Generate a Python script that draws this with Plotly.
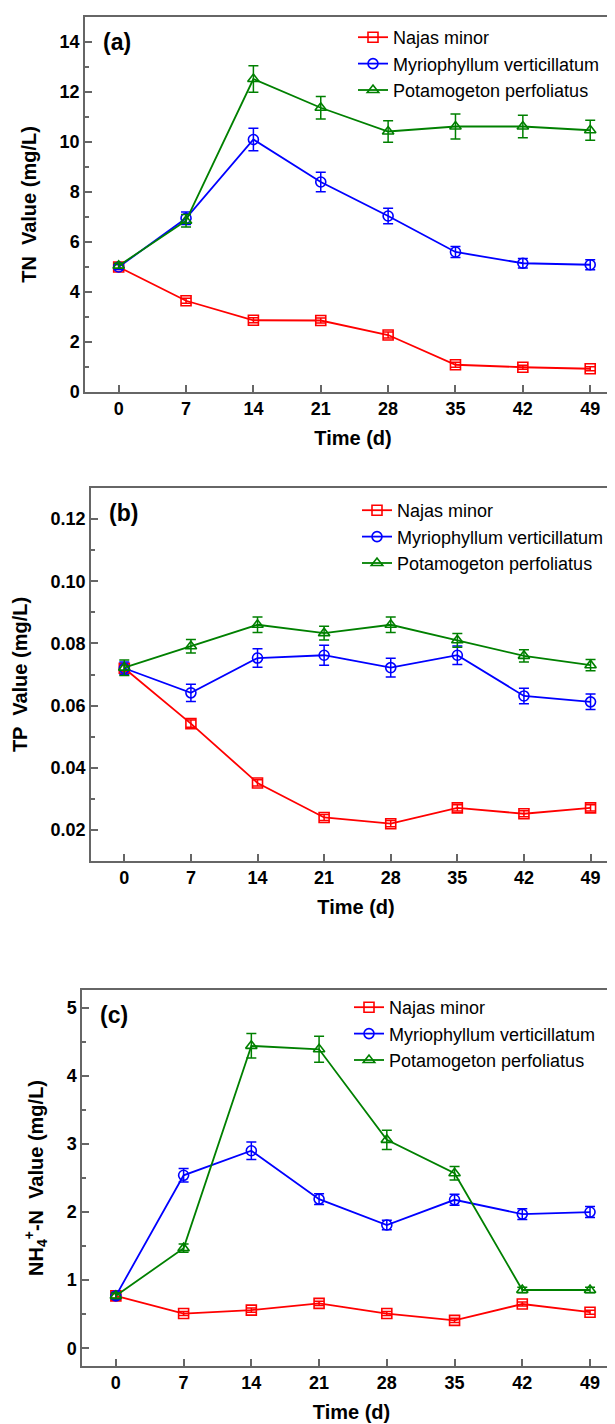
import plotly.graph_objects as go

# ---------------- data ----------------
days = [0, 7, 14, 21, 28, 35, 42, 49]
day_ticks = ["0", "7", "14", "21", "28", "35", "42", "49"]
series_names = ["Najas minor", "Myriophyllum verticillatum", "Potamogeton perfoliatus"]

tn_najas = [5.0, 3.65, 2.87, 2.86, 2.28, 1.09, 0.99, 0.93]
tn_najas_err = [0.1, 0.1, 0.1, 0.1, 0.12, 0.1, 0.08, 0.08]
tn_myrio = [5.0, 6.95, 10.1, 8.4, 7.04, 5.6, 5.15, 5.09]
tn_myrio_err = [0.1, 0.25, 0.45, 0.39, 0.31, 0.22, 0.19, 0.2]
tn_pota = [5.05, 6.85, 12.52, 11.37, 10.42, 10.62, 10.62, 10.47]
tn_pota_err = [0.1, 0.25, 0.53, 0.45, 0.43, 0.5, 0.45, 0.4]

tp_najas = [0.072, 0.0542, 0.0351, 0.024, 0.022, 0.0271, 0.0252, 0.0271]
tp_najas_err = [0.001, 0.0012, 0.001, 0.001, 0.001, 0.001, 0.001, 0.001]
tp_myrio = [0.072, 0.0641, 0.0753, 0.0762, 0.0722, 0.0762, 0.0631, 0.0612]
tp_myrio_err = [0.002, 0.0028, 0.003, 0.0032, 0.003, 0.003, 0.0025, 0.0025]
tp_pota = [0.0722, 0.0791, 0.086, 0.0833, 0.086, 0.081, 0.076, 0.073]
tp_pota_err = [0.0025, 0.0022, 0.0025, 0.0022, 0.0025, 0.0022, 0.002, 0.0018]

nh_najas = [0.77, 0.51, 0.56, 0.66, 0.51, 0.41, 0.65, 0.53]
nh_najas_err = [0.03, 0.03, 0.03, 0.03, 0.03, 0.03, 0.03, 0.03]
nh_myrio = [0.77, 2.54, 2.90, 2.19, 1.81, 2.18, 1.97, 2.0]
nh_myrio_err = [0.05, 0.1, 0.13, 0.08, 0.07, 0.08, 0.08, 0.08]
nh_pota = [0.77, 1.47, 4.44, 4.39, 3.06, 2.57, 0.856, 0.856]
nh_pota_err = [0.04, 0.06, 0.18, 0.19, 0.14, 0.1, 0.04, 0.04]

colors = ["#ff0000", "#0000ff", "#008000"]
symbols = ["square-open", "circle-open", "triangle-up-open"]

W, H = 615, 1424
FONT = "Arial, Liberation Sans, sans-serif"

panels = [
    dict(vals=[(tn_najas, tn_najas_err), (tn_myrio, tn_myrio_err), (tn_pota, tn_pota_err)],
         box=(77, 613, 9, 384), yrange=[0, 15], dtick=2, minor=1, tickformat="d",
         ytitle="TN  Value (mg/L)", label="(a)", leg=(345, 11)),
    dict(vals=[(tp_najas, tp_najas_err), (tp_myrio, tp_myrio_err), (tp_pota, tp_pota_err)],
         box=(83, 613, 480, 853), yrange=[0.01, 0.13], dtick=0.02, minor=0.01, tickformat=".2f",
         ytitle="TP  Value (mg/L)", label="(b)", leg=(349, 484)),
    dict(vals=[(nh_najas, nh_najas_err), (nh_myrio, nh_myrio_err), (nh_pota, nh_pota_err)],
         box=(74, 613, 982, 1358), yrange=[-0.26, 5.26], dtick=1, minor=0.5, tickformat="d",
         ytitle="NH<sub>4</sub><sup>+</sup>-N  Value (mg/L)", label="(c)", leg=(341, 981)),
]

fig = go.Figure()
layout = dict(width=W, height=H, paper_bgcolor="white", plot_bgcolor="white",
              margin=dict(l=0, r=0, t=0, b=0), font=dict(family=FONT, color="black"),
              annotations=[])

for i, p in enumerate(panels):
    n = "" if i == 0 else str(i + 1)
    xa, ya = "x" + n, "y" + n
    legname = "legend" + n
    for k, (v, e) in enumerate(p["vals"]):
        fig.add_trace(go.Scatter(
            x=days, y=v, name=series_names[k], mode="lines+markers",
            xaxis=xa, yaxis=ya, legend=legname,
            line=dict(color=colors[k], width=1.8),
            marker=dict(symbol=symbols[k], size=10, color=colors[k],
                        line=dict(color=colors[k], width=1.6)),
            error_y=dict(type="data", array=e, visible=True, color=colors[k],
                         thickness=1.5, width=5),
        ))
    x0, x1, yt, yb = p["box"]
    axis_common = dict(showline=True, linecolor="#666666", linewidth=1.5, mirror=True,
                       ticks="inside", tickcolor="#666666", ticklen=7, tickwidth=1.5,
                       showgrid=False, zeroline=False, automargin=False,
                       tickfont=dict(family=FONT, size=18, color="black", weight="bold"))
    layout["xaxis" + n] = dict(axis_common, domain=[x0 / W, x1 / W], anchor=ya,
                              range=[-3.5, 52.2], tickmode="array", tickvals=days,
                              ticktext=day_ticks,
                              title=dict(text="<b>Time (d)</b>", standoff=13,
                                         font=dict(family=FONT, size=20)))
    layout["yaxis" + n] = dict(axis_common, domain=[1 - yb / H, 1 - yt / H], anchor=xa,
                              range=p["yrange"], dtick=p["dtick"], tick0=0,
                              tickformat=p["tickformat"],
                              minor=dict(ticks="inside", ticklen=4, tickcolor="#666666",
                                         dtick=p["minor"], tick0=0, showgrid=False),
                              title=dict(text="<b>" + p["ytitle"] + "</b>", standoff=18,
                                         font=dict(family=FONT, size=20)))
    lx, ly = p["leg"]
    layout[legname] = dict(x=lx / W, y=1 - ly / H, xanchor="left", yanchor="top",
                           bgcolor="rgba(0,0,0,0)", font=dict(family=FONT, size=18),
                           tracegroupgap=0)
    layout["annotations"].append(dict(
        text="<b>" + p["label"] + "</b>", xref="paper", yref="paper",
        x=(x0 + 16) / W, y=1 - (yt + 25) / H, xanchor="left", yanchor="middle",
        showarrow=False, font=dict(family=FONT, size=23, color="black")))

fig.update_layout(**layout)
fig.write_html("out.html")
